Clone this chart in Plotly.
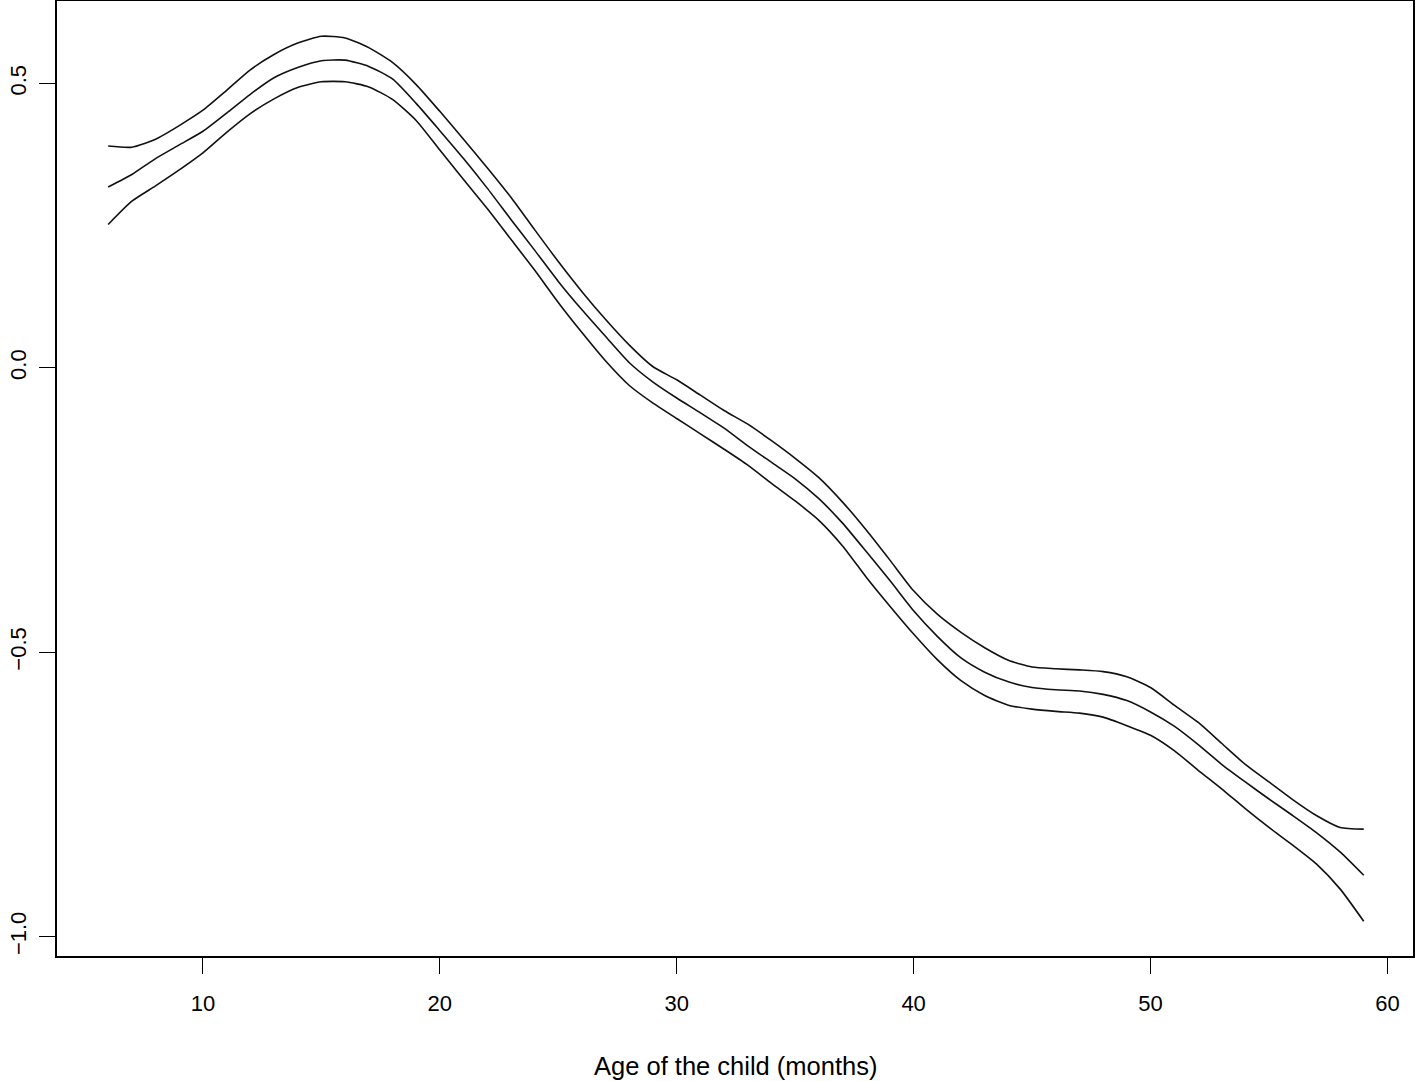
import plotly.graph_objects as go

# Age of the child (months)
age = list(range(6, 60))

# Upper confidence bound
upper = [0.390, 0.388, 0.402, 0.426, 0.453, 0.488, 0.524, 0.551, 0.571, 0.583,
         0.580, 0.563, 0.537, 0.498, 0.451, 0.402, 0.352, 0.300, 0.243, 0.187,
         0.134, 0.085, 0.040, 0.002, -0.021, -0.048, -0.075, -0.099, -0.128, -0.159,
         -0.193, -0.236, -0.285, -0.338, -0.392, -0.433, -0.465, -0.492, -0.514, -0.526,
         -0.529, -0.531, -0.534, -0.543, -0.562, -0.593, -0.623, -0.660, -0.697, -0.728,
         -0.759, -0.787, -0.808, -0.811]

# Fitted smooth effect
fit = [0.318, 0.340, 0.368, 0.392, 0.416, 0.448, 0.481, 0.510, 0.528, 0.540,
       0.541, 0.530, 0.508, 0.465, 0.417, 0.368, 0.316, 0.261, 0.207, 0.152,
       0.102, 0.055, 0.009, -0.025, -0.053, -0.079, -0.106, -0.137, -0.166, -0.195,
       -0.230, -0.273, -0.323, -0.374, -0.427, -0.472, -0.510, -0.535, -0.552, -0.562,
       -0.566, -0.568, -0.574, -0.585, -0.605, -0.630, -0.662, -0.697, -0.728, -0.758,
       -0.787, -0.817, -0.851, -0.892]

# Lower confidence bound
lower = [0.252, 0.293, 0.320, 0.348, 0.378, 0.414, 0.447, 0.473, 0.493, 0.503,
         0.503, 0.494, 0.472, 0.435, 0.383, 0.331, 0.280, 0.226, 0.172, 0.115,
         0.062, 0.012, -0.031, -0.062, -0.089, -0.116, -0.143, -0.171, -0.203, -0.234,
         -0.268, -0.313, -0.368, -0.419, -0.468, -0.513, -0.550, -0.576, -0.593, -0.600,
         -0.604, -0.607, -0.614, -0.629, -0.646, -0.673, -0.707, -0.740, -0.775, -0.808,
         -0.839, -0.872, -0.916, -0.973]

x_ticks = [10, 20, 30, 40, 50, 60]
x_ticklabels = ["10", "20", "30", "40", "50", "60"]
y_ticks = [-1.0, -0.5, 0.0, 0.5]
y_ticklabels = ["\u22121.0", "\u22120.5", "0.0", "0.5"]
x_title = "Age of the child (months)"

FONT = "Liberation Sans, Arial, Helvetica, sans-serif"

fig = go.Figure()
for series in (upper, fit, lower):
    fig.add_trace(go.Scatter(x=age, y=series, mode="lines",
                             line=dict(color="#111111", width=1.6,
                                       shape="spline", smoothing=0.6),
                             showlegend=False, hoverinfo="skip"))

fig.update_layout(
    width=1416, height=1081,
    paper_bgcolor="white", plot_bgcolor="white",
    margin=dict(l=57, r=3, t=1, b=125, autoexpand=False),
    font=dict(family=FONT, size=22, color="black"),
    annotations=[dict(text=x_title, xref="paper", yref="paper",
                      x=0.5, y=-0.115, xanchor="center", yanchor="middle",
                      showarrow=False, font=dict(family=FONT, size=25.5, color="black"))],
)
fig.update_xaxes(range=[3.84, 61.08], tickvals=x_ticks, ticktext=x_ticklabels,
                 automargin=False,
                 showgrid=False, zeroline=False, showline=True, mirror=True,
                 linecolor="black", linewidth=1.5, ticks="outside", ticklen=16,
                 tickwidth=1.2, tickcolor="black", ticklabelstandoff=11)
fig.update_yaxes(range=[-1.034, 0.645], tickvals=y_ticks, ticktext=y_ticklabels,
                 automargin=False,
                 showgrid=False, zeroline=False, showline=True, mirror=True,
                 linecolor="black", linewidth=1.5, ticks="outside", ticklen=16,
                 tickwidth=1.2, tickcolor="black", tickangle=-90, ticklabelstandoff=4)

fig.write_html("out.html", config={"displayModeBar": False},
               post_script="document.body.style.margin='0';document.body.style.overflow='hidden';")
